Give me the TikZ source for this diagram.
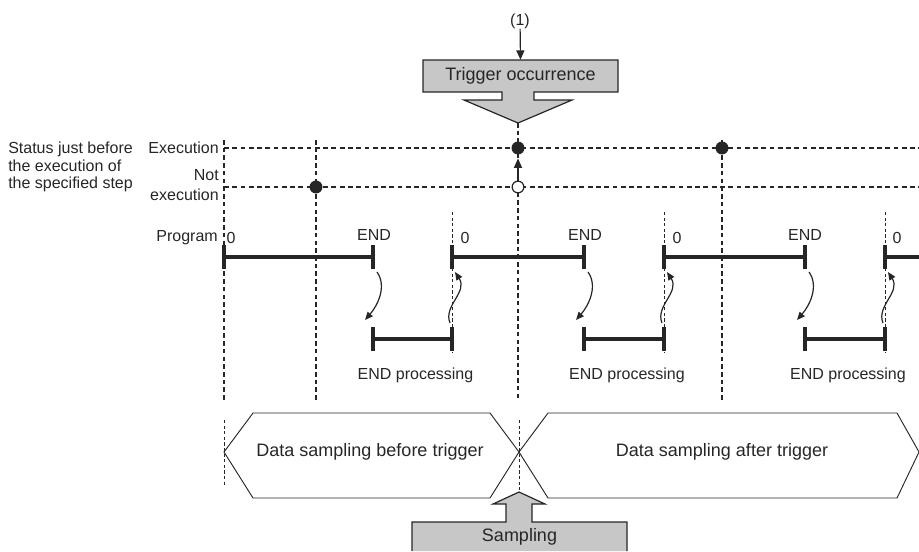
\documentclass[tikz,border=0pt]{standalone}
\usepackage{fontspec}
\setmainfont{Liberation Sans}
\usetikzlibrary{arrows.meta}

\begin{document}
\begin{tikzpicture}[x=0.75pt,y=-0.75pt,
  guide/.style={line width=1.2pt,dash pattern=on 3.4pt off 2.4pt,draw=black!85},
  fineguide/.style={line width=0.7pt,dash pattern=on 2.4pt off 1.8pt,draw=black!85},
  level/.style={line width=1pt,dash pattern=on 3.6pt off 2.6pt,draw=black!85},
  scanline/.style={line width=2.8pt,draw=black!85},
  tick/.style={line width=3.2pt,draw=black!85},
  dot/.style={circle,draw=black!85,line width=0.9pt,fill=black!85,minimum size=8.8pt,inner sep=0pt},
  opendot/.style={dot,fill=white},
  lbl/.style={font=\fontsize{12}{14}\selectfont,text=black!85,inner sep=0pt},
  biglbl/.style={font=\fontsize{13.5}{16}\selectfont,text=black!85,inner sep=0pt},
  hexa/.style={line width=0.7pt,draw=black!85},
  blockarr/.style={draw=black!85,line width=0.9pt,fill=black!22},
  wave/.style={line width=0.9pt,draw=black!85,-{Triangle[length=6pt,width=5pt]}},
  pointer/.style={line width=0.9pt,draw=black!85,-{Triangle[length=7pt,width=6pt]}}]
\useasboundingbox (0,0) rectangle (919,551);
% guides
\draw[guide] (224,140) -- (224,400);
\draw[guide] (316,140) -- (316,400);
\draw[guide] (518,123) -- (518,400);
\draw[guide] (722,140) -- (722,400);
\draw[fineguide] (224,420) -- (224,485);
\draw[fineguide] (519,420) -- (519,492);
\draw[level] (224,148) -- (919,148);
\draw[level] (224,187) -- (919,187);
% status labels
\node[lbl,anchor=west,align=left,font=\fontsize{12}{13.1}\selectfont] (status) at (8,167) {Status just before\\the execution of\\the specified step};
\node[lbl,anchor=east] (exe) at (219,148) {Execution};
\node[lbl,anchor=east,align=right,font=\fontsize{12}{15}\selectfont] (noexe) at (219,185) {Not\\execution};
\node[lbl,anchor=east] (prog) at (218,238) {Program};
% trigger
\draw[blockarr] (423,60) -- (618,60) -- (618,92) -- (534,92) -- (534,100) -- (572,100) -- (518,123) -- (464,100) -- (502,100) -- (502,92) -- (423,92) -- cycle;
\node[biglbl,minimum width=146pt,minimum height=24pt] (trig) at (520.5,76) {Trigger occurrence};
\node[lbl] (one) at (520,21) {(1)};
\draw[pointer] (one) -- (trig.north);
% status dots
\node[dot] (nx1) at (316,187) {};
\node[dot] (ex2) at (518,148) {};
\node[opendot] (nx2) at (518,187) {};
\node[dot] (ex3) at (722,148) {};
\draw[pointer,shorten >=3pt] (nx2) -- (ex2);
% program scans
\coordinate (p0) at (224,257);
\coordinate (e1) at (373,257);
\coordinate (p1) at (452,257);
\coordinate (e2) at (584,257);
\coordinate (p2) at (664,257);
\coordinate (e3) at (805,257);
\coordinate (p3) at (885,257);
\coordinate (pend) at (925,257);
\draw[scanline] (p0) -- (e1);
\draw[scanline] (p1) -- (e2);
\draw[scanline] (p2) -- (e3);
\draw[scanline] (p3) -- (pend);
\foreach \t in {p0,e1,p1,e2,p2,e3,p3}
  \draw[tick] (\t) ++(0,-12) -- ++(0,24);
\node[lbl] (zero0) at (231,238) {0};
\node[lbl] (zero1) at (465,238) {0};
\node[lbl] (zero2) at (677,238) {0};
\node[lbl] (zero3) at (897,238) {0};
\node[lbl] (end1) at (374,235) {END};
\node[lbl] (end2) at (585,235) {END};
\node[lbl] (end3) at (805,235) {END};
% END processing
\foreach \ex/\px/\n in {373/452/1,584/664/2,805/885/3} {
  \draw[fineguide] (\px,212) -- (\px,353);
  \coordinate (qs\n) at (\ex,339);
  \coordinate (qe\n) at (\px,339);
  \draw[scanline] (qs\n) -- (qe\n);
  \draw[tick] (qs\n) ++(0,-12) -- ++(0,24);
  \draw[tick] (qe\n) ++(0,-12) -- ++(0,24);
  \node[lbl] (proc\n) at ({(\ex+\px)/2+3},375) {END processing};
  \coordinate (wa\n) at (\ex+4,272);
  \coordinate (wb\n) at (\ex-8,320);
  \draw[wave] (wa\n) .. controls (\ex+14,286) and (\ex+5,305) .. (wb\n);
  \coordinate (wc\n) at (\px-2,323);
  \coordinate (wd\n) at (\px+3,272);
  \draw[wave] (wc\n) .. controls (\px-9,306) and (\px+16,292) .. (wd\n);
}
% sampling
\draw[hexa] (224,452) -- (253,413) -- (490,413) -- (519,452) -- (490,498) -- (253,498) -- cycle;
\draw[hexa] (519,452) -- (548,413) -- (897,413) -- (919,452) -- (897,498) -- (548,498) -- cycle;
\node[biglbl] (before) at (370,452) {Data sampling before trigger};
\node[biglbl] (after) at (722,452) {Data sampling after trigger};
\draw[blockarr] (412,551) -- (412,522) -- (506,522) -- (506,504) -- (493,504) -- (519,492) -- (545,504) -- (532,504) -- (532,522) -- (627,522) -- (627,551);
\node[biglbl] (samp) at (519.5,537) {Sampling};
\end{tikzpicture}
\end{document}
